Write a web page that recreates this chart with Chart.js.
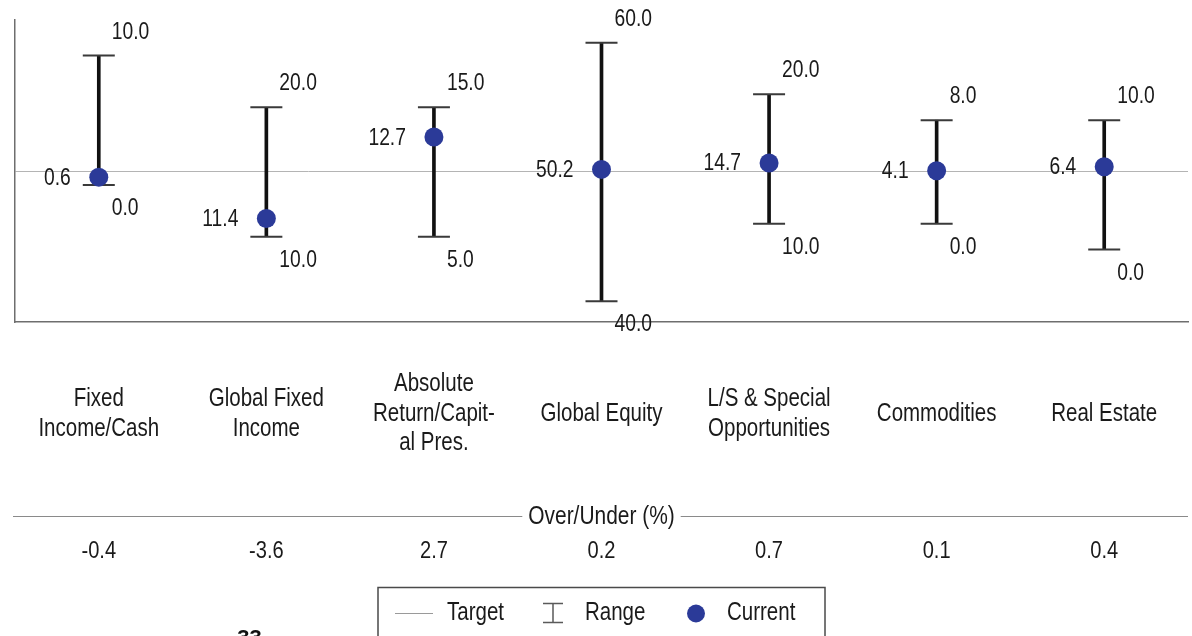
<!DOCTYPE html>
<html>
<head>
<meta charset="utf-8">
<script src="https://cdn.jsdelivr.net/npm/chart.js@4.4.1/dist/chart.umd.min.js"></script>
<style>
  html, body { margin: 0; padding: 0; background: #ffffff; overflow: hidden; }
  #wrap { width: 1192px; height: 636px; position: relative; }
</style>
</head>
<body>
<div id="wrap"><canvas id="c" width="1192" height="636"></canvas></div>
<script>
// ---- data ----
const categories = [
  ["Fixed", "Income/Cash"],
  ["Global Fixed", "Income"],
  ["Absolute", "Return/Capit-", "al Pres."],
  ["Global Equity"],
  ["L/S & Special", "Opportunities"],
  ["Commodities"],
  ["Real Estate"]
];
const rangeMin = [0.0, 10.0, 5.0, 40.0, 10.0, 0.0, 0.0];
const rangeMax = [10.0, 20.0, 15.0, 60.0, 20.0, 8.0, 10.0];
const currentVals = [0.6, 11.4, 12.7, 50.2, 14.7, 4.1, 6.4];
const targetVals = [1.0, 15.0, 10.0, 50.0, 14.0, 4.0, 6.0];
const overUnder = [-0.4, -3.6, 2.7, 0.2, 0.7, 0.1, 0.4];
const legendLabels = ["Target", "Range", "Current"];

// ---- font detection ----
const probe = document.createElement('canvas').getContext('2d');
probe.font = '40px "Liberation Sans Narrow", monospace';
const wA = probe.measureText('Commodities 10.0').width;
probe.font = '40px monospace';
const wB = probe.measureText('Commodities 10.0').width;
const NARROW = wA !== wB;
const FAM = NARROW ? '"Liberation Sans Narrow", "Arial Narrow", sans-serif' : '"Liberation Sans", Arial, sans-serif';

function txt(ctx, s, x, y, align, size, weight, color) {
  ctx.save();
  ctx.font = (weight || 'normal') + ' ' + size + 'px ' + FAM;
  ctx.fillStyle = color || '#1a1a1a';
  ctx.textBaseline = 'middle';
  ctx.textAlign = align;
  if (NARROW) {
    ctx.fillText(s, x, y);
  } else {
    ctx.translate(x, y);
    ctx.scale(0.82, 1);
    ctx.fillText(s, 0, 0);
  }
  ctx.restore();
}
function txtWidth(ctx, s, size) {
  ctx.save();
  ctx.font = 'normal ' + size + 'px ' + FAM;
  const w = ctx.measureText(s).width * (NARROW ? 1 : 0.82);
  ctx.restore();
  return w;
}

const rel = (arr) => arr.map((v, i) => +(v - targetVals[i]).toFixed(4));
const fmt = (v) => v.toFixed(1);

const labelsPlugin = {
  id: 'labelsPlugin',
  afterDraw(chart) {
    const ctx = chart.ctx;
    const xs = chart.scales.x, ys = chart.scales.y;
    const area = chart.chartArea;
    categories.forEach((cat, i) => {
      const x = xs.getPixelForValue(i);
      const yTop = ys.getPixelForValue(rangeMax[i] - targetVals[i]);
      const yBot = ys.getPixelForValue(rangeMin[i] - targetVals[i]);
      const yCur = ys.getPixelForValue(currentVals[i] - targetVals[i]);
      txt(ctx, fmt(rangeMax[i]), x + 13, yTop - 23.5, 'left', 23.5);
      txt(ctx, fmt(rangeMin[i]), x + 13, yBot + 23.5, 'left', 23.5);
      txt(ctx, fmt(currentVals[i]), x - 28, yCur + 1, 'right', 23.5);
      // category label, vertically centred
      const lh = 29.5;
      const y0 = 414 - (cat.length - 1) * lh / 2;
      cat.forEach((line, k) => txt(ctx, line, x, y0 + k * lh, 'center', 25));
      // over / under values
      txt(ctx, fmt(overUnder[i]), x, 551, 'center', 24.5);
    });

    // Over/Under header with rule
    const hdr = 'Over/Under (%)';
    const cx = (area.left + area.right) / 2;
    const hw = txtWidth(ctx, hdr, 25.5) / 2;
    ctx.save();
    ctx.strokeStyle = '#8a8a8a';
    ctx.lineWidth = 1;
    ctx.beginPath();
    ctx.moveTo(area.left - 2, 516.5); ctx.lineTo(cx - hw - 6, 516.5);
    ctx.moveTo(cx + hw + 6, 516.5); ctx.lineTo(area.right, 516.5);
    ctx.stroke();
    ctx.restore();
    txt(ctx, hdr, cx, 517, 'center', 25.5);

    // legend box
    ctx.save();
    ctx.strokeStyle = '#4a4a4a';
    ctx.lineWidth = 1.5;
    ctx.strokeRect(378, 587.5, 447, 80);
    // target line icon
    ctx.strokeStyle = '#9a9a9a';
    ctx.lineWidth = 1;
    ctx.beginPath(); ctx.moveTo(395, 613.5); ctx.lineTo(433, 613.5); ctx.stroke();
    // range icon
    ctx.strokeStyle = '#5a5a5a';
    ctx.lineWidth = 1.5;
    ctx.beginPath();
    ctx.moveTo(543, 603.5); ctx.lineTo(563, 603.5);
    ctx.moveTo(553, 603.5); ctx.lineTo(553, 622.5);
    ctx.moveTo(543, 622.5); ctx.lineTo(563, 622.5);
    ctx.stroke();
    // current icon
    ctx.fillStyle = '#2b3a98';
    ctx.beginPath(); ctx.arc(696, 613.5, 9, 0, Math.PI * 2); ctx.fill();
    ctx.restore();
    txt(ctx, legendLabels[0], 447, 613, 'left', 25);
    txt(ctx, legendLabels[1], 585, 613, 'left', 25);
    txt(ctx, legendLabels[2], 727, 613, 'left', 25);

    // page number (cut off at bottom)
    ctx.save();
    ctx.font = 'bold 22px "Liberation Sans", Arial, sans-serif';
    ctx.fillStyle = '#111';
    ctx.textAlign = 'center';
    ctx.textBaseline = 'alphabetic';
    ctx.fillText('33', 249.5, 645);
    ctx.restore();
  }
};

new Chart(document.getElementById('c'), {
  type: 'bar',
  data: {
    labels: categories.map(c => c.join(' ')),
    datasets: [
      {
        type: 'line',
        label: 'Current',
        data: rel(currentVals),
        showLine: false,
        pointRadius: 9.5,
        pointHoverRadius: 9.5,
        pointBackgroundColor: '#2b3a98',
        pointBorderWidth: 0,
        clip: false,
        order: 0
      },
      {
        type: 'line',
        label: 'RangeMax',
        data: rel(rangeMax),
        showLine: false,
        pointStyle: 'line',
        pointRadius: 16,
        pointHoverRadius: 16,
        pointBorderColor: '#3a3a3a',
        pointBorderWidth: 2,
        clip: false,
        order: 1
      },
      {
        type: 'line',
        label: 'RangeMin',
        data: rel(rangeMin),
        showLine: false,
        pointStyle: 'line',
        pointRadius: 16,
        pointHoverRadius: 16,
        pointBorderColor: '#3a3a3a',
        pointBorderWidth: 2,
        clip: false,
        order: 1
      },
      {
        type: 'bar',
        label: 'Range',
        data: rangeMin.map((v, i) => [v - targetVals[i], rangeMax[i] - targetVals[i]]),
        backgroundColor: '#111111',
        barThickness: 3,
        order: 2
      }
    ]
  },
  options: {
    responsive: false,
    animation: false,
    devicePixelRatio: 1,
    layout: { autoPadding: false, padding: { top: 20, left: 15, right: 4, bottom: 314 } },
    plugins: {
      legend: { display: false },
      tooltip: { enabled: false },
      title: { display: false }
    },
    scales: {
      x: {
        type: 'category',
        offset: true,
        grid: { display: false, drawTicks: false },
        ticks: { display: false, padding: 0 },
        border: { display: true, color: '#6e6e6e', width: 1.5 },
        afterFit: (s) => { s.paddingLeft = 0; s.paddingRight = 0; s.height = 0; }
      },
      y: {
        min: -11.6,
        max: 11.75,
        afterBuildTicks: (scale) => { scale.ticks = [{ value: 0 }]; },
        grid: { display: true, drawTicks: false, color: '#b4b4b4', lineWidth: 1 },
        ticks: { display: false, padding: 0 },
        border: { display: true, color: '#6e6e6e', width: 1.5 },
        afterFit: (s) => { s.width = 0; s.paddingTop = 0; s.paddingBottom = 0; }
      }
    }
  },
  plugins: [labelsPlugin]
});
</script>
</body>
</html>
